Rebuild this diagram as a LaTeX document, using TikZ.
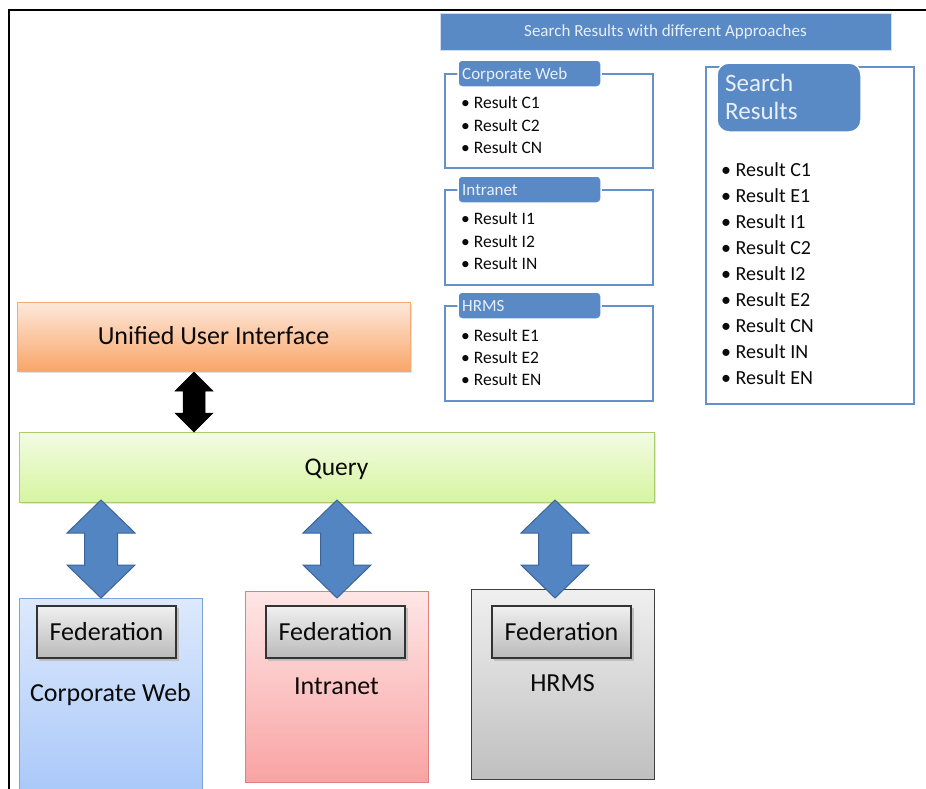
\documentclass[tikz,border=0pt]{standalone}
\usepackage{fontspec}
\setmainfont{Carlito}
\usetikzlibrary{calc}
\definecolor{tabblue}{RGB}{90,138,198}
\definecolor{grpline}{RGB}{100,145,203}
\definecolor{tabtext}{RGB}{233,239,248}
\definecolor{txt}{RGB}{10,10,10}
\definecolor{arrblue}{RGB}{82,133,194}
\definecolor{arrborder}{RGB}{60,100,155}
\tikzset{
  x=1pt, y=-1pt,
  grpbox/.style={draw=grpline, line width=2.8pt},
  tabbox/.style={fill=tabblue, draw=white, line width=1.5pt, rounded corners=4pt},
  item/.style={anchor=base west, inner sep=0pt, font=\fontsize{17.5}{20}\selectfont, text=txt},
  bigitem/.style={anchor=base west, inner sep=0pt, font=\fontsize{20}{24}\selectfont, text=txt},
  tabtxt/.style={anchor=base west, inner sep=0pt, font=\fontsize{17}{20}\selectfont, text=tabtext},
  bigtxt/.style={anchor=base, inner sep=0pt, font=\fontsize{26}{30}\selectfont, text=txt},
  fedbox/.style={draw=black!80, line width=1.2pt, top color=black!6, bottom color=black!27},
  bluearrow/.style={fill=arrblue, draw=arrborder, line width=1pt, line join=miter},
  blackarrow/.style={fill=black, draw=black, line width=0.5pt}
}
\newcommand\dblarr[7]{% x, ytop, ybot, headlen, head half width, shaft half width, style
  \pgfmathsetmacro\ya{#2+#4}\pgfmathsetmacro\yb{#3-#4}
  \draw[#7] (#1,#2) -- (#1+#5,\ya) -- (#1+#6,\ya) -- (#1+#6,\yb) -- (#1+#5,\yb) -- (#1,#3)
    -- (#1-#5,\yb) -- (#1-#6,\yb) -- (#1-#6,\ya) -- (#1-#5,\ya) -- cycle;}
\begin{document}
\begin{tikzpicture}
\useasboundingbox (0,0) rectangle (926,788);
\clip (0,0) rectangle (926,788);
\fill[white] (0,0) rectangle (926,788);
% frame
\draw[line width=2.2pt, black] (9,790) -- (9,10) -- (930,10);

% title bar
\node[fill=tabblue, draw=white!70!tabblue, line width=0.8pt, minimum width=451pt, minimum height=37pt, inner sep=0pt,
  text=tabtext, font=\fontsize{17}{20}\selectfont] (title) at (665.5,31.5) {Search Results with different Approaches};

% group: Corporate Web
\draw[grpbox] (445,74) rectangle (653,168);
\draw[tabbox] (458,60) rectangle (601,87);
\node[tabtxt] (tcw) at (462,79) {Corporate Web};
\node[item] (c1) at (461,108.5) {\textbullet\ Result C1};
\node[item] (c2) at (461,131.5) {\textbullet\ Result C2};
\node[item] (cn) at (461,153.5) {\textbullet\ Result CN};

% group: Intranet
\draw[grpbox] (445,190) rectangle (653,285);
\draw[tabbox] (458,176) rectangle (601,203);
\node[tabtxt] (tin) at (462,195) {Intranet};
\node[item] (i1) at (461,224.5) {\textbullet\ Result I1};
\node[item] (i2) at (461,247.5) {\textbullet\ Result I2};
\node[item] (in) at (461,269.5) {\textbullet\ Result IN};

% group: HRMS
\draw[grpbox] (445,306) rectangle (653,401);
\draw[tabbox] (458,292) rectangle (601,319);
\node[tabtxt] (thr) at (462,311) {HRMS};
\node[item] (e1) at (461,341.5) {\textbullet\ Result E1};
\node[item] (e2) at (461,363.5) {\textbullet\ Result E2};
\node[item] (en) at (461,385.5) {\textbullet\ Result EN};

% Search results
\draw[grpbox] (706,67) rectangle (914,404);
\draw[fill=tabblue, draw=white, line width=1.5pt, rounded corners=12pt] (717,63) rectangle (861,132);
\node[anchor=base west, inner sep=0pt, font=\fontsize{25}{30}\selectfont, text=tabtext] (sr1) at (725,91) {Search};
\node[anchor=base west, inner sep=0pt, font=\fontsize{25}{30}\selectfont, text=tabtext] (sr2) at (725,119.5) {Results};
\foreach \t [count=\k from 0] in {C1,E1,I1,C2,I2,E2,CN,IN,EN}{
  \node[bigitem] (r\k) at (721,176.5+26*\k) {\textbullet\ Result \t};
}

% Unified User Interface
\fill[black!12] (19,304) rectangle (412,373);
\draw[draw={rgb,255:red,245;green,170;blue,120}, line width=1pt,
  top color={rgb,255:red,253;green,233;blue,219}, bottom color={rgb,255:red,249;green,165;blue,105}]
  (17,302) rectangle (410,371);
\node[bigtxt] (uui) at (213.5,344.5) {Unified User Interface};
\coordinate (uuib) at (194,371);

% Query
\fill[black!10] (21,434) rectangle (656,504);
\draw[draw={rgb,255:red,170;green,204;blue,110}, line width=1pt,
  top color={rgb,255:red,243;green,251;blue,228}, bottom color={rgb,255:red,214;green,245;blue,160}]
  (19,432) rectangle (654,502);
\node[bigtxt, font=\fontsize{25.5}{30}\selectfont] (query) at (336.5,475) {Query};

% black double arrow between UUI and Query
\dblarr{194}{372}{432}{19}{19}{11}{blackarrow}

% bottom boxes
\draw[draw={rgb,255:red,125;green,162;blue,214}, line width=1pt,
  top color={rgb,255:red,221;green,233;blue,252}, bottom color={rgb,255:red,168;green,199;blue,249}]
  (19,598) rectangle (202,800);
\draw[draw={rgb,255:red,222;green,128;blue,128}, line width=1pt,
  top color={rgb,255:red,254;green,230;blue,230}, bottom color={rgb,255:red,249;green,163;blue,163}]
  (245,591) rectangle (428,782);
\draw[draw=black!75, line width=1pt,
  top color=black!6, bottom color=black!25]
  (471,589) rectangle (654,779);

\node[bigtxt] (cwl) at (110.5,701) {Corporate Web};
\node[bigtxt] (inl) at (336.5,694) {Intranet};
\node[bigtxt] (hrl) at (562.5,691) {HRMS};

% federation boxes
\foreach \n/\xa in {fa/37, fb/266, fc/492}{
  \fill[black!25] (\xa+2,608) rectangle (\xa+142,661);
  \draw[fedbox] (\xa,606) rectangle (\xa+139,658);
  \node[bigtxt] (\n) at (\xa+69.5,640.5) {Federation};
}

% blue double arrows
\dblarr{101}{500}{598}{33}{34}{16.5}{bluearrow}
\dblarr{337}{500}{598}{33}{34}{16.5}{bluearrow}
\dblarr{555}{500}{598}{33}{34}{16.5}{bluearrow}
\end{tikzpicture}
\end{document}
